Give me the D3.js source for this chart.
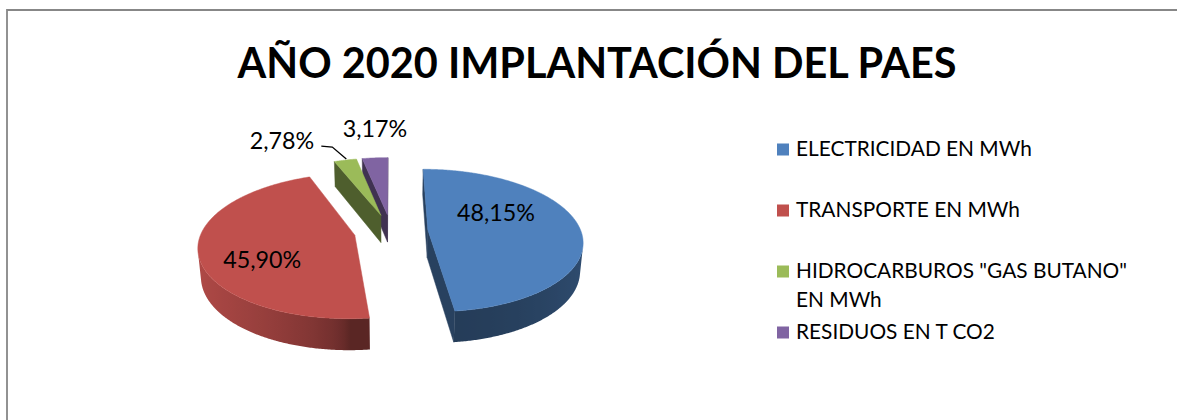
<!DOCTYPE html>
<html>
<head>
<meta charset="utf-8">
<script src="https://cdn.jsdelivr.net/npm/d3@7"></script>
<style>
  body { margin: 0; background: #fff; }
  svg { display: block; }
  text { font-family: Lato, "Open Sans", sans-serif; fill: #000; }
</style>
</head>
<body>
<script>
// ---- data ----
const title = "AÑO 2020 IMPLANTACIÓN DEL PAES";
const categories = ["ELECTRICIDAD EN MWh", "TRANSPORTE EN MWh", "HIDROCARBUROS \"GAS BUTANO\" EN MWh", "RESIDUOS EN T CO2"];
const values = [48.15, 45.90, 2.78, 3.17];
const valueLabels = ["48,15%", "45,90%", "2,78%", "3,17%"];
const colors = ["#4F81BD", "#C0504D", "#9BBB59", "#8064A2"];

const W = 1177, H = 420;

// 3d pie setup (perspective view)
const R = 153, thick = 32, explode = 37;
const tilt = 27.2 * Math.PI / 180, camDist = 925;
const cx = 391, cy = 231;
const cosT = Math.cos(tilt), sinT = Math.sin(tilt);
const cam = [0, -camDist * cosT, camDist * sinT];

// x = right, b = toward back, z = up
function depthOf(p) { return p[1] * cosT - p[2] * sinT; }
function project(p) {
  const up = p[1] * sinT + p[2] * cosT;
  const s = camDist / (camDist + depthOf(p));
  return [cx + p[0] * s, cy - up * s];
}
function facing(p, n) {
  return (cam[0] - p[0]) * n[0] + (cam[1] - p[1]) * n[1] + (cam[2] - p[2]) * n[2] > 0;
}
function shade(c, f) {
  const b = d3.rgb(c);
  return d3.rgb(b.r * f, b.g * f, b.b * f).formatHex();
}
function wallShade(t) {
  const s = Math.sin(t);
  return 0.47 + 0.45 * Math.sqrt(Math.max(0, -s)) + 0.13 * Math.pow(Math.max(0, s), 2);
}

const svg = d3.select("body").append("svg")
  .attr("width", W)
  .attr("height", H);
const defs = svg.append("defs");

// chart frame
svg.append("path")
  .attr("d", `M7,${H + 5}V10H${W + 5}`)
  .attr("fill", "none")
  .attr("stroke", "#878787")
  .attr("stroke-width", 1.8);

function fitWidth(sel, w) {
  const len = sel.node().getComputedTextLength();
  const fs = parseFloat(sel.attr("font-size"));
  sel.attr("font-size", fs * w / len);
  return fs * w / len;
}

// title
const titleText = svg.append("text")
  .attr("x", 597)
  .attr("y", 78)
  .attr("text-anchor", "middle")
  .attr("font-weight", 700)
  .attr("font-size", 44)
  .text(title);
fitWidth(titleText, 719);

// ---- pie geometry ----
const arcs = d3.pie().sort(null).value(d => d)(values);

const walls = [], tops = [];
const slices = arcs.map((a, i) => {
  const a0 = a.startAngle, a1 = a.endAngle;
  const mid = (a0 + a1) / 2;
  const ox = explode * Math.sin(mid), ob = explode * Math.cos(mid);
  const rim = (t, z, r = R) => [ox + r * Math.sin(t), ob + r * Math.cos(t), z];
  const apex = z => [ox, ob, z];
  const n = Math.max(2, Math.ceil((a1 - a0) / (Math.PI / 360)));
  const ts = d3.range(n + 1).map(k => a0 + (a1 - a0) * k / n);

  // outer curved wall: keep only the part that faces the camera
  const vis = ts.filter(t => facing(rim(t, 0), [Math.sin(t), Math.cos(t), 0]));
  if (vis.length > 1) {
    const topPts = vis.map(t => rim(t, 0));
    const botPts = vis.map(t => rim(t, -thick)).reverse();
    const xs = topPts.map(p => project(p)[0]);
    const gid = "wall" + i;
    const g = defs.append("linearGradient")
      .attr("id", gid)
      .attr("gradientUnits", "userSpaceOnUse")
      .attr("x1", xs[0]).attr("y1", 0)
      .attr("x2", xs[xs.length - 1]).attr("y2", 0);
    const span = xs[xs.length - 1] - xs[0];
    vis.forEach((t, k) => {
      if (k % 4 && k !== vis.length - 1) return;
      g.append("stop")
        .attr("offset", span ? (xs[k] - xs[0]) / span : 0)
        .attr("stop-color", shade(colors[i], wallShade(t)));
    });
    walls.push({ pts: topPts.concat(botPts), fill: `url(#${gid})`, stroke: "none" });
  }
  // cut faces
  const startPts = [apex(0), rim(a0, 0), rim(a0, -thick), apex(-thick)];
  if (facing(apex(0), [-Math.cos(a0), Math.sin(a0), 0]))
    walls.push({ pts: startPts, fill: shade(colors[i], 0.5) });
  const endPts = [rim(a1, 0), apex(0), apex(-thick), rim(a1, -thick)];
  if (facing(apex(0), [Math.cos(a1), -Math.sin(a1), 0]))
    walls.push({ pts: endPts, fill: shade(colors[i], 0.5) });

  tops.push({ pts: [apex(0)].concat(ts.map(t => rim(t, 0))), fill: colors[i] });
  return { mid, rim, apex };
});

const meanDepth = d => d3.mean(d.pts, depthOf);
walls.sort((a, b) => meanDepth(b) - meanDepth(a));
tops.sort((a, b) => meanDepth(b) - meanDepth(a));

const line = d3.line();
const pie = svg.append("g");
pie.selectAll("path.wall")
  .data(walls)
  .join("path")
  .attr("class", "wall")
  .attr("d", d => line(d.pts.map(project)) + "Z")
  .attr("fill", d => d.fill)
  .attr("stroke", d => d.stroke || d.fill)
  .attr("stroke-width", 0.5)
  .attr("stroke-linejoin", "round");
pie.selectAll("path.top")
  .data(tops)
  .join("path")
  .attr("class", "top")
  .attr("d", d => line(d.pts.map(project)) + "Z")
  .attr("fill", d => d.fill)
  .attr("stroke", d => d.fill)
  .attr("stroke-width", 0.5);

// ---- data labels ----
const lbl = svg.append("g");
const probe = lbl.append("text").attr("font-size", 24).text(valueLabels[0]);
const labelSize = fitWidth(probe, 78);
probe.remove();

// inside labels: radius fraction and vertical nudge
const inside = { 0: { r: 0.45, dy: -16 }, 1: { r: 0.6, dy: 14 } };
[0, 1].forEach(i => {
  const s = slices[i];
  const p = project(s.rim(s.mid, 0, R * inside[i].r));
  lbl.append("text")
    .attr("x", p[0])
    .attr("y", p[1] + inside[i].dy + labelSize * 0.36)
    .attr("text-anchor", "middle")
    .attr("font-size", labelSize)
    .text(valueLabels[i]);
});

// green label with leader line
{
  const s = slices[2];
  const p = project(s.rim(s.mid, 0));
  lbl.append("path")
    .attr("d", `M${p[0] + 1},${p[1] - 1}L${p[0] - 13},${p[1] - 13}L${p[0] - 24},${p[1] - 14}`)
    .attr("fill", "none")
    .attr("stroke", "#000")
    .attr("stroke-width", 1.3);
  lbl.append("text")
    .attr("x", p[0] - 31)
    .attr("y", p[1] - 11)
    .attr("text-anchor", "end")
    .attr("font-size", labelSize)
    .text(valueLabels[2]);
}
// purple label above its rim
{
  const s = slices[3];
  const p = project(s.rim(s.mid, 0));
  lbl.append("text")
    .attr("x", p[0])
    .attr("y", p[1] - 21)
    .attr("text-anchor", "middle")
    .attr("font-size", labelSize)
    .text(valueLabels[3]);
}

// ---- legend ----
const legend = svg.append("g").attr("transform", "translate(777,0)");
const probe2 = legend.append("text").attr("font-size", 20).text(categories[0]);
const legendSize = fitWidth(probe2, 236);
probe2.remove();

function wrap(str, maxW) {
  const words = str.split(" ");
  const out = [];
  let cur = "";
  const t = legend.append("text").attr("font-size", legendSize);
  words.forEach(w => {
    const test = cur ? cur + " " + w : w;
    t.text(test);
    if (t.node().getComputedTextLength() > maxW && cur) { out.push(cur); cur = w; }
    else cur = test;
  });
  out.push(cur);
  t.remove();
  return out;
}

const lineH = 29.5, pitch = 61;
let base = 155.5;
categories.forEach((c, i) => {
  const lines = wrap(c, 350);
  legend.append("rect")
    .attr("x", 0)
    .attr("y", base - 12)
    .attr("width", 12)
    .attr("height", 12)
    .attr("fill", colors[i]);
  const t = legend.append("text")
    .attr("x", 19)
    .attr("y", base)
    .attr("font-size", legendSize);
  lines.forEach((l, k) => {
    t.append("tspan").attr("x", 19).attr("y", base + k * lineH).text(l);
  });
  base += Math.max(pitch, lines.length * lineH);
});
</script>
</body>
</html>
